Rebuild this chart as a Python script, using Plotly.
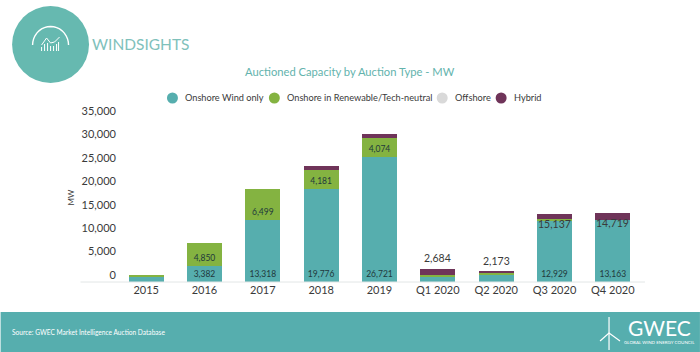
import math
import plotly.graph_objects as go

categories = ["2015", "2016", "2017", "2018", "2019", "Q1 2020", "Q2 2020", "Q3 2020", "Q4 2020"]
onshore_only = [1100, 3382, 13318, 19776, 26721, 1050, 1500, 12929, 13163]
onshore_renewable = [400, 4850, 6499, 4181, 4074, 450, 500, 600, 0]
offshore = [0, 0, 0, 0, 0, 0, 0, 0, 0]
hybrid = [0, 0, 0, 800, 800, 1184, 173, 950, 1556]
series_names = ["Onshore Wind only", "Onshore in Renewable/Tech-neutral", "Offshore", "Hybrid"]
onshore_labels = ["", "3,382", "13,318", "19,776", "26,721", "", "", "12,929", "13,163"]
renewable_labels = ["", "4,850", "6,499", "4,181", "4,074", "", "", "", ""]
total_labels = ["", "", "", "", "", "2,684", "2,173", "15,137", "14,719"]
y_ticks = [0, 5000, 10000, 15000, 20000, 25000, 30000, 35000]

TEAL, GREEN, GREY, PURPLE = "#56aeae", "#84b341", "#d9d9d9", "#6f3459"
series_colors = [TEAL, GREEN, GREY, PURPLE]
LOGO = "#66b9b0"
DARK = "#3a3a3a"
FONT = "Lato"
W, H = 700, 352
L, R, T, B = 116.5, 642, 118, 282


def px(x):
    return (x - L) / (R - L)


def py(y):
    return (B - y) / (B - T)


fig = go.Figure()
series_values = [onshore_only, onshore_renewable, offshore, hybrid]
series_labels = [onshore_labels, renewable_labels, None, None]
for name, vals, col, labels in zip(series_names, series_values, series_colors, series_labels):
    fig.add_trace(go.Bar(
        x=categories, y=vals, name=name, marker=dict(color=col, line_width=0), showlegend=False,
        text=labels, textposition="inside" if labels else None, insidetextanchor="start",
        textangle=0, constraintext="none", textfont=dict(family=FONT, size=8.5, color="#22393c"),
    ))

totals = [a + b + c + d for a, b, c, d in zip(onshore_only, onshore_renewable, offshore, hybrid)]

shapes = [
    dict(type="rect", xref="paper", yref="paper", x0=px(0), x1=px(W), y0=py(312), y1=py(H),
         fillcolor=TEAL, line_width=0, layer="below"),
    dict(type="circle", xref="paper", yref="paper", x0=px(11.5), x1=px(88.5), y0=py(6), y1=py(83),
         fillcolor=LOGO, line_width=0, layer="below"),
    dict(type="line", xref="paper", yref="paper", x0=px(80), x1=px(645), y0=0, y1=0,
         line=dict(color="#e2e6e6", width=1)),
]


def polyline(points):
    return "M " + " L ".join(f"{px(a):.5f},{py(b):.5f}" for a, b in points)


arc = [(50 + 18 * math.cos(math.radians(a)), 45 - 18.5 * math.sin(math.radians(a))) for a in range(0, 181, 10)]
for path, width in [
    (polyline(arc), 1.4),
    (polyline([(41, 45), (46, 38), (50, 43), (54, 42), (59, 37)]), 1),
    (polyline([(600, 341), (609, 333), (620, 341)]), 1.2),
    (polyline([(609, 317), (609, 350)]), 1.2),
]:
    shapes.append(dict(type="path", xref="paper", yref="paper", path=path, line=dict(color="white", width=width)))
for x, top in [(41, 47), (44, 44), (47, 43), (50, 46), (53, 46), (56, 44), (58, 42)]:
    shapes.append(dict(type="line", xref="paper", yref="paper", x0=px(x), x1=px(x), y0=py(top), y1=py(51),
                       line=dict(color="white", width=1)))


def note(text, x, y, size, color, anchor="left", font=FONT, angle=0):
    return dict(text=text, xref="paper", yref="paper", x=px(x), y=py(y), showarrow=False, xanchor=anchor,
                yanchor="middle", align=anchor, textangle=angle, borderpad=0, borderwidth=0,
                font=dict(family=font, size=size, color=color))


annotations = [
    note("WINDSIGHTS", 91, 44.5, 15.5, "#7fc1bb"),
    note("Auctioned Capacity by Auction Type - MW", 350, 71, 11.2, "#63b3ad", "center"),
    note("MW", 70, 198, 8, DARK, "center", angle=-90),
    note("Source: GWEC Market Intelligence Auction Database", 11, 332, 6.6, "white"),
    note("GWEC", 659.5, 327, 21, "white", "center"),
    note("GLOBAL WIND ENERGY COUNCIL", 660, 342, 4.5, "white", "center"),
]
for cx, name, col in zip([172, 274, 442, 501], series_names, series_colors):
    shapes.append(dict(type="circle", xref="paper", yref="paper", x0=px(cx - 5.5), x1=px(cx + 5.5),
                       y0=py(98 - 5.5), y1=py(98 + 5.5), fillcolor=col, line_width=0))
    annotations.append(note(name, cx + 13, 97.5, 9.2, DARK))
for cat, total, label in zip(categories, totals, total_labels):
    if label:
        inside = cat in ("Q3 2020", "Q4 2020")
        annotations.append(dict(
            text=label, x=cat, y=total, xref="x", yref="y", showarrow=False,
            yanchor="top" if inside else "bottom", yshift=-2 if inside else 3,
            font=dict(family=FONT, size=10.5, color=DARK),
        ))

fig.update_layout(
    width=W, height=H, autosize=False, barmode="stack", bargap=0.4,
    margin=dict(l=L, r=W - R, t=T, b=H - B, pad=0),
    paper_bgcolor="white", plot_bgcolor="white",
    font=dict(family=FONT, color=DARK), showlegend=False,
    xaxis=dict(type="category", categoryorder="array", categoryarray=categories, showgrid=False, showline=False,
               ticks="", tickfont=dict(family=FONT, size=11, color=DARK)),
    yaxis=dict(range=[0, 35000], tickvals=y_ticks, tickformat=",", showgrid=False, zeroline=False, showline=False,
               ticks="", tickfont=dict(family=FONT, size=11, color=DARK), ticklabelshift=-7),
    shapes=shapes, annotations=annotations,
)
fig.write_html("out.html", config=dict(displayModeBar=False),
               post_script="document.body.style.margin='0';document.body.style.overflow='hidden';")
